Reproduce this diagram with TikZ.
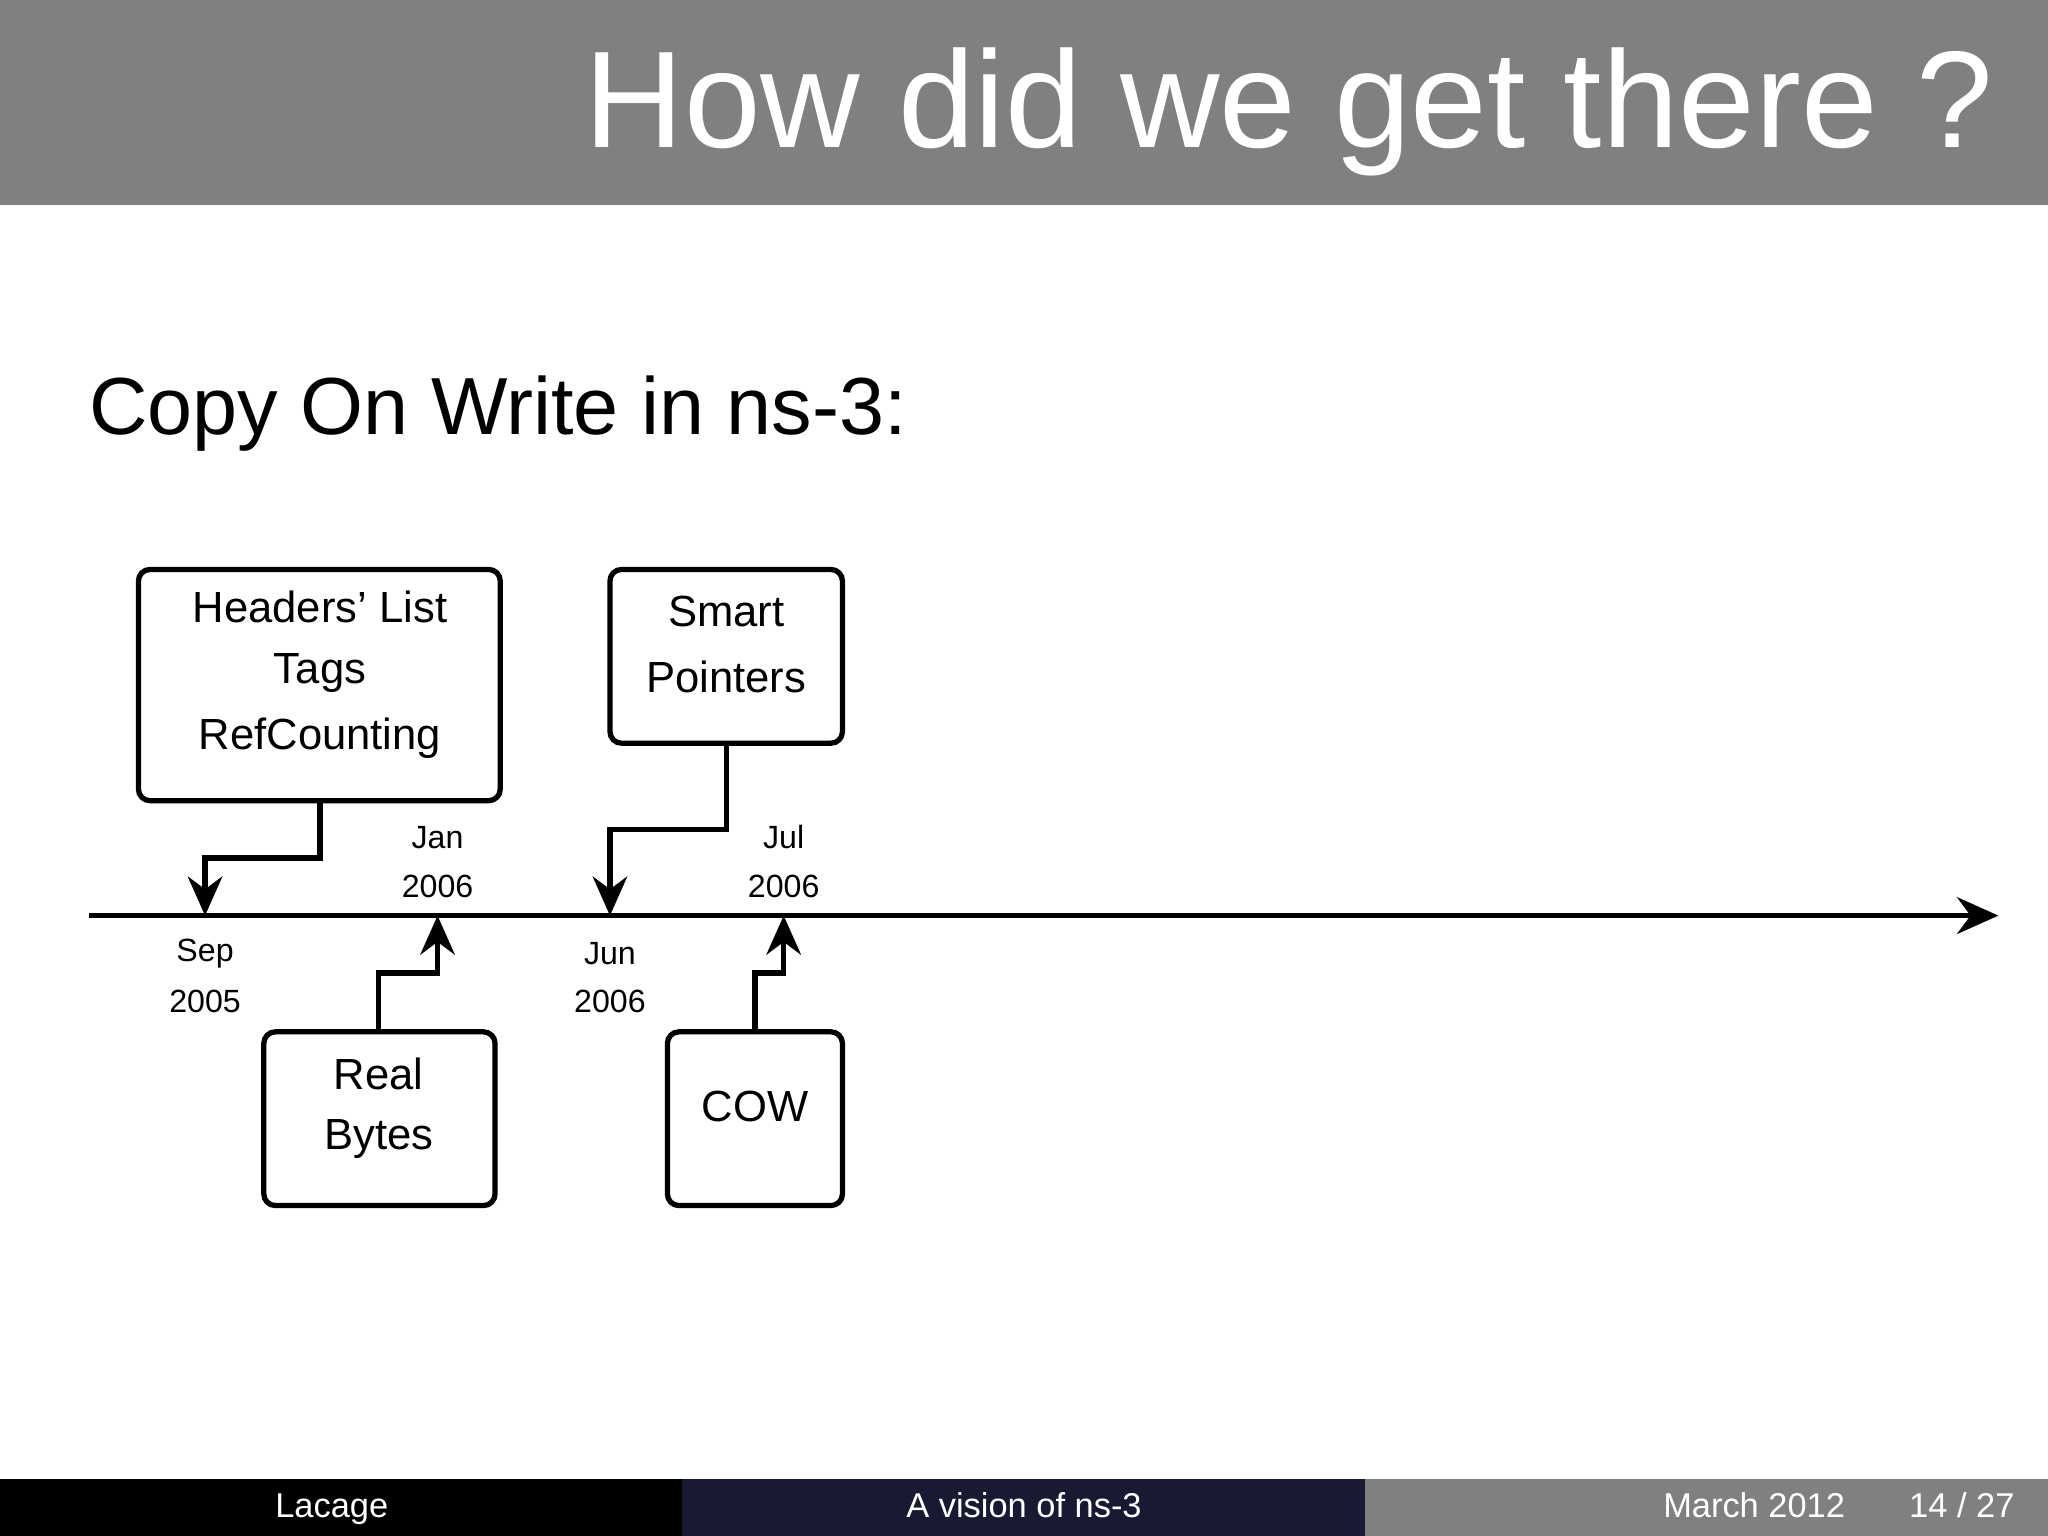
\documentclass[tikz,border=0pt]{standalone}
\usepackage{fontspec}
\setmainfont{Liberation Sans}
\usetikzlibrary{arrows.meta}
\definecolor{bargray}{RGB}{128,128,128}
\definecolor{navy}{RGB}{25,25,50}
\begin{document}
\begin{tikzpicture}[x=0.02cm,y=-0.02cm,
  evbox/.style={draw,line width=2.3pt,rounded corners=5pt,inner sep=0pt},
  conn/.style={line width=2.3pt,-{Stealth[length=17pt,width=15pt]}},
  boxtxt/.style={font=\fontsize{19}{27}\selectfont,align=center},
  datetxt/.style={font=\fontsize{14}{21}\selectfont,align=center}]
\useasboundingbox (0,0) rectangle (1568,1176);
\fill[bargray] (0,0) rectangle (1568,157);
\node[anchor=base east,text=white,font=\fontsize{60}{60}\selectfont] (title) at (1532,113) {How did we get there ?};
\node[anchor=base west,font=\fontsize{35.3}{36}\selectfont] (sub) at (62,333) {Copy On Write in ns-3:};
% boxes
\draw[evbox] (106,436) rectangle (383,613);
\draw[evbox] (467,436) rectangle (645,569);
\draw[evbox] (202,790) rectangle (379,923);
\draw[evbox] (511,790) rectangle (645,923);
\coordinate (b1) at (245,613); \coordinate (b2) at (556,569);
\coordinate (b3) at (290,790); \coordinate (b4) at (578,790);
\coordinate (t1) at (157,701); \coordinate (t2) at (467,701);
\coordinate (t3) at (335,701); \coordinate (t4) at (600,701);
\node[boxtxt] (h1) at (245,465) {Headers’ List};
\node[boxtxt] (h2) at (245,515) {Tags};
\node[boxtxt] (h3) at (245,565) {RefCounting};
\node[boxtxt] (s1) at (556,468) {Smart};
\node[boxtxt] (s2) at (556,518) {Pointers};
\node[boxtxt] (r1) at (290,822) {Real};
\node[boxtxt] (r2) at (290,872) {Bytes};
\node[boxtxt] (c1) at (578,847) {COW};
% timeline
\coordinate (tl0) at (68,701); \coordinate (tl1) at (1530,701);
\draw[line width=2.3pt,-{Stealth[length=18pt,width=16pt]}] (tl0) -- (tl1);
\draw[conn] (b1) -- (245,657) -- (157,657) -- (t1);
\draw[conn] (b2) -- (556,635) -- (467,635) -- (t2);
\draw[conn] (b3) -- (290,745) -- (335,745) -- (t3);
\draw[conn] (b4) -- (578,745) -- (600,745) -- (t4);
\node[datetxt] (d1) at (335,641) {Jan}; \node[datetxt] (d1b) at (335,679) {2006};
\node[datetxt] (d2) at (600,641) {Jul}; \node[datetxt] (d2b) at (600,679) {2006};
\node[datetxt] (d3) at (157,730) {Sep}; \node[datetxt] (d3b) at (157,767) {2005};
\node[datetxt] (d4) at (467,730) {Jun}; \node[datetxt] (d4b) at (467,767) {2006};
% footer
\fill[black] (0,1132) rectangle (522,1176);
\fill[navy] (522,1132) rectangle (1045,1176);
\fill[bargray] (1045,1132) rectangle (1568,1176);
\begin{scope}[every node/.style={anchor=base,text=white,font=\fontsize{15}{15}\selectfont}]
\node (f1) at (254,1162) {Lacage};
\node (f2) at (784,1162) {A vision of ns-3};
\node (f3) at (1343,1162) {March 2012};
\node (f4) at (1502,1162) {14 / 27};
\end{scope}
\end{tikzpicture}
\end{document}
